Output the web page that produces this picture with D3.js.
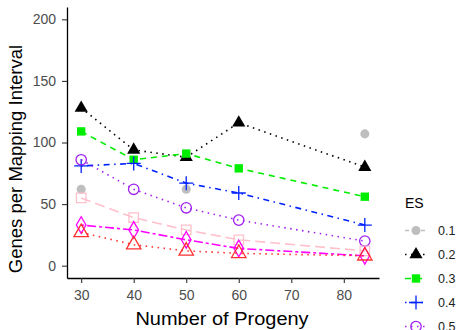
<!DOCTYPE html>
<html>
<head>
<meta charset="utf-8">
<script src="https://cdn.jsdelivr.net/npm/d3@7"></script>
<style>
  body { margin: 0; background: #fff; }
  text { font-family: "Liberation Sans", Arial, sans-serif; }
</style>
</head>
<body>
<div id="chart"></div>
<script>
// Genes per mapping interval vs number of progeny, one line per ES level
const progeny = [30, 40, 50, 60, 84];
const esLevels = ["0.1", "0.2", "0.3", "0.4", "0.5", "0.6", "0.7", "0.8"];
const es01 = [62, null, 62, null, 107];
const es02 = [128, 94, 88, 116, 80];
const es03 = [109, 86, 91, 79, 56];
const es04 = [81, 83, 67, 59, 33];
const es05 = [86, 62, 47, 37, 20];
const es06 = [55, 39, 29, 21, 12];
const es07 = [33, 29, 21, 14, 8];
const es08 = [27, 17, 12, 10, 8];
const yTicks = [0, 50, 100, 150, 200];
const xTicks = [30, 40, 50, 60, 70, 80];

const seriesValues = [es01, es02, es03, es04, es05, es06, es07, es08];

const styles = [
    { color: "#bebebe", dash: "4,4", shape: "circleFill" },
    { color: "#000000", dash: "1.5,4.5", shape: "triFill" },
    { color: "#00ee00", dash: "6,5", shape: "squareFill" },
    { color: "#0022ff", dash: "1.5,4.5,6,4.5", shape: "plus" },
    { color: "#a020f0", dash: "1.5,4.5", shape: "circleOpen" },
    { color: "#ffc0cb", dash: "10,5", shape: "squareOpen" },
    { color: "#ff00ff", dash: "3,3,9,3", shape: "diamondOpen" },
    { color: "#ff3030", dash: "1.5,4.5", shape: "triOpen" }
];

const W = 456, H = 330;
const svg = d3.select("#chart").append("svg").attr("width", W).attr("height", H);

const panel = { left: 67, right: 379, top: 7, bottom: 278 };
const x = d3.scaleLinear().domain([27.3, 86.7]).range([panel.left, panel.right]);
const y = d3.scaleLinear().domain([-10, 210]).range([panel.bottom, panel.top]);

// axes
const xAxis = svg.append("g").attr("transform", `translate(0,${panel.bottom})`)
    .call(d3.axisBottom(x).tickValues(xTicks).tickSize(5).tickPadding(7).tickSizeOuter(0));
const yAxis = svg.append("g").attr("transform", `translate(${panel.left},0)`)
    .call(d3.axisLeft(y).tickValues(yTicks).tickSize(5).tickPadding(6).tickSizeOuter(0));
[xAxis, yAxis].forEach(g => {
    g.select(".domain").attr("stroke", "#000").attr("stroke-width", 1.3);
    g.selectAll(".tick line").attr("stroke", "#333").attr("stroke-width", 1.1);
    g.selectAll(".tick text").attr("fill", "#4d4d4d").style("font-size", "14px")
        .style("font-family", "'Liberation Sans', Arial, sans-serif");
});

function drawShape(g, shape, color, cx, cy) {
    const sym = {
        circleFill: [d3.symbolCircle, 64, true],
        triFill: [d3.symbolTriangle, 75, true],
        squareFill: [d3.symbolSquare, 70, true],
        circleOpen: [d3.symbolCircle, 85, false],
        squareOpen: [d3.symbolSquare, 90, false],
        diamondOpen: [d3.symbolDiamond, 80, false],
        triOpen: [d3.symbolTriangle, 90, false]
    }[shape];
    if (shape === "plus") {
        g.append("path").attr("d", `M${cx - 7},${cy}H${cx + 7}M${cx},${cy - 7}V${cy + 7}`)
            .attr("stroke", color).attr("stroke-width", 1.3).attr("fill", "none");
        return;
    }
    const p = g.append("path").attr("d", d3.symbol().type(sym[0]).size(sym[1])())
        .attr("transform", `translate(${cx},${cy})`);
    if (sym[2]) p.attr("fill", color).attr("stroke", "none");
    else p.attr("fill", "none").attr("stroke", color).attr("stroke-width", 1.3);
}

const line = d3.line().defined(d => d[1] !== null).x(d => x(d[0])).y(d => y(d[1]));

esLevels.forEach((lvl, i) => {
    const vals = seriesValues[i];
    const st = styles[i];
    const pts = progeny.map((p, j) => [p, vals[j]]);
    const g = svg.append("g");
    g.append("path").datum(pts).attr("d", line)
        .attr("fill", "none").attr("stroke", st.color).attr("stroke-width", 1.6)
        .attr("stroke-dasharray", st.dash);
    pts.filter(d => d[1] !== null).forEach(d => drawShape(g, st.shape, st.color, x(d[0]), y(d[1])));
});

// axis titles
svg.append("text").attr("transform", "translate(222,325) scale(1.08,1)").attr("text-anchor", "middle")
    .style("font-size", "18.5px").attr("fill", "#000").text("Number of Progeny");
svg.append("text").attr("transform", "translate(22,159) rotate(-90)")
    .attr("text-anchor", "middle").style("font-size", "18.5px").attr("fill", "#000")
    .text("Genes per Mapping Interval");

// legend
const legend = svg.append("g");
legend.append("text").attr("x", 405).attr("y", 208).style("font-size", "14px").attr("fill", "#000").text("ES");
esLevels.forEach((lvl, i) => {
    const ly = 230.5 + i * 24;
    const st = styles[i];
    legend.append("line").attr("x1", 405).attr("x2", 427).attr("y1", ly).attr("y2", ly)
        .attr("stroke", st.color).attr("stroke-width", 1.3).attr("stroke-dasharray", st.dash);
    drawShape(legend, st.shape, st.color, 416, ly);
    legend.append("text").attr("x", 438).attr("y", ly + 4.5).style("font-size", "12.5px")
        .attr("fill", "#222").text(lvl);
});
</script>
</body>
</html>
